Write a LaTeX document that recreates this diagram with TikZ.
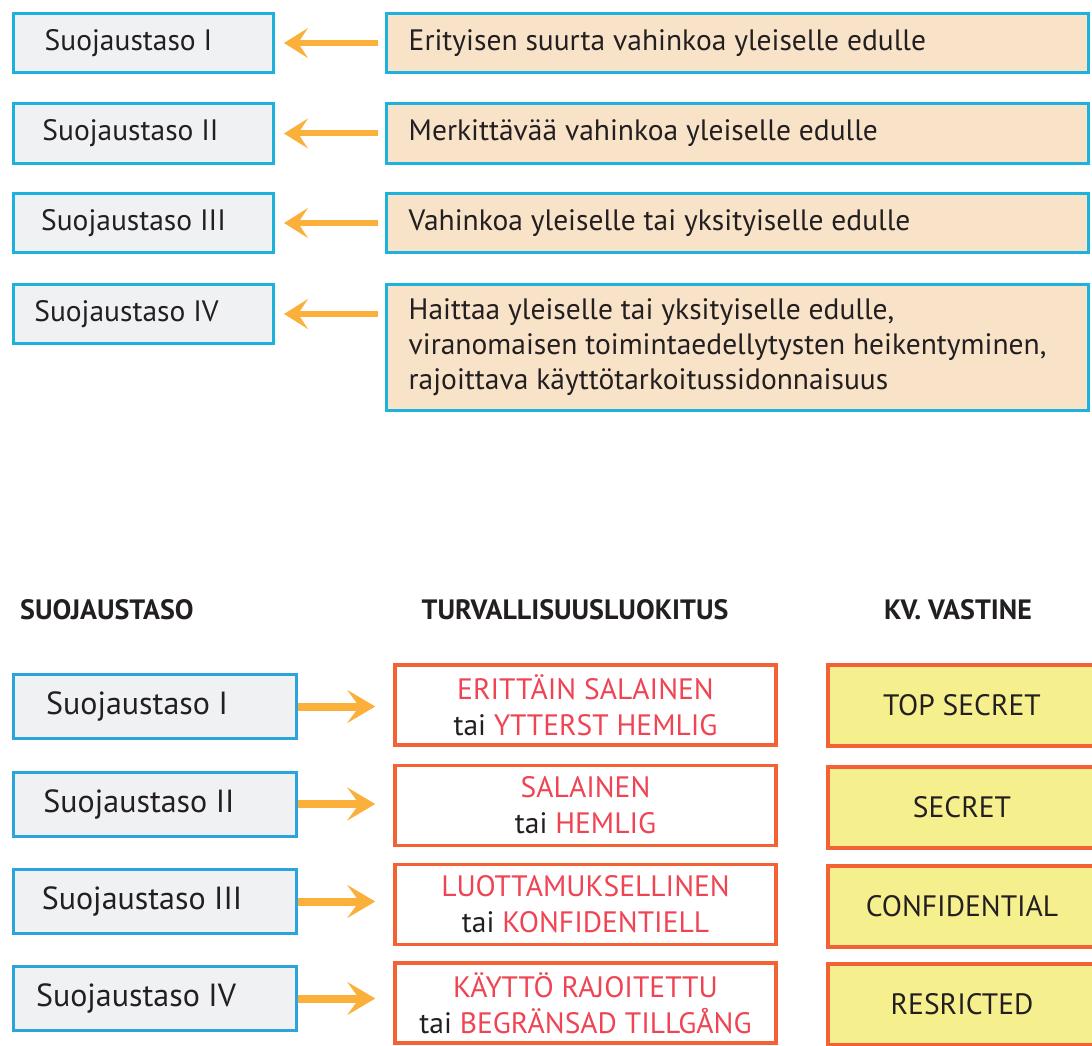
\documentclass[tikz,border=0pt]{standalone}
\usepackage{fontspec}
\setmainfont{PT Sans}
\usetikzlibrary{arrows.meta}
\definecolor{cyanline}{HTML}{1DB1DE}
\definecolor{blueline}{HTML}{2AA4DA}
\definecolor{grayfill}{HTML}{F0F1F3}
\definecolor{peach}{HTML}{F8E3C9}
\definecolor{arroworange}{HTML}{FBB03B}
\definecolor{redline}{HTML}{F26234}
\definecolor{redtext}{HTML}{EF4453}
\definecolor{ink}{HTML}{231F20}
\definecolor{paleyellow}{HTML}{F5EF8D}
\begin{document}
\begin{tikzpicture}[x=1pt,y=-1pt,
  every node/.style={text=ink},
  txt/.style={font=\fontsize{29.5}{35}\selectfont, inner sep=0pt},
  head/.style={font=\fontsize{28}{32}\selectfont\bfseries, inner sep=0pt},
  levelbox/.style={draw=cyanline, fill=grayfill, line width=3pt, inner sep=0pt,
    minimum width=260pt, minimum height=59pt},
  harmbox/.style={draw=cyanline, fill=peach, line width=3pt, inner sep=0pt,
    minimum width=702pt, minimum height=59pt},
  levelboxb/.style={draw=blueline, fill=grayfill, line width=3pt, inner sep=0pt,
    minimum width=283pt, minimum height=64pt},
  classbox/.style={draw=redline, fill=white, line width=3.5pt, inner sep=0pt,
    minimum width=381pt, minimum height=80pt, align=center,
    font=\fontsize{29.5}{36}\selectfont},
  intlbox/.style={draw=redline, fill=paleyellow, line width=3.5pt, inner sep=0pt,
    minimum width=268pt, minimum height=81pt, font=\fontsize{29.5}{35}\selectfont},
  leftarrow/.style={draw=arroworange, line width=6pt,
    -{Stealth[length=24pt,width=30pt,inset=10pt]}, shorten <=7pt, shorten >=9pt},
  rightarrow/.style={draw=arroworange, line width=8pt,
    -{Stealth[length=28pt,width=33pt,inset=12pt]}, shorten >=18pt}
]
\useasboundingbox (0,0) rectangle (1092,1046);
\clip (0,0) rectangle (1092,1046);

% Upper part: protection levels and the harm they correspond to
\node[levelbox, label={[txt, xshift=-15pt]center:Suojaustaso I}]   (t1) at (143.5,43)  {};
\node[levelbox, label={[txt, xshift=-13pt]center:Suojaustaso II}]  (t2) at (143.5,133.5) {};
\node[levelbox, label={[txt, xshift=-10pt]center:Suojaustaso III}] (t3) at (143.5,223) {};
\node[levelbox, label={[txt, xshift=-17pt]center:Suojaustaso IV}]  (t4) at (143.5,314) {};

\node[harmbox, label={[txt, anchor=west, xshift=23.5pt]west:Erityisen suurta vahinkoa yleiselle edulle}] (d1) at (737.5,43) {};
\node[harmbox, label={[txt, anchor=west, xshift=23.5pt]west:Merkittävää vahinkoa yleiselle edulle}] (d2) at (737.5,133.5) {};
\node[harmbox, label={[txt, anchor=west, xshift=23.5pt]west:Vahinkoa yleiselle tai yksityiselle edulle}] (d3) at (737.5,223) {};
\node[harmbox, minimum height=126pt,
  label={[txt, anchor=west, xshift=23.5pt, align=left]west:Haittaa yleiselle tai yksityiselle edulle,\\viranomaisen toimintaedellytysten heikentyminen,\\rajoittava käyttötarkoitussidonnaisuus}] (d4) at (737.5,347.5) {};

\draw[leftarrow] (d1.west) -- (t1.east);
\draw[leftarrow] (d2.west) -- (t2.east);
\draw[leftarrow] (d3.west) -- (t3.east);
\draw[leftarrow] (t4.east -| d4.west) -- (t4.east);

% Lower part: column headings
\node[head, anchor=west] (h1) at (20,610) {SUOJAUSTASO};
\node[head] (h2) at (575,610) {TURVALLISUUSLUOKITUS};
\node[head] (h3) at (958,610) {KV. VASTINE};

% Protection levels
\node[levelboxb, label={[txt, font=\fontsize{32}{38}\selectfont, xshift=-18pt]center:Suojaustaso I}]   (s1) at (155,706.5) {};
\node[levelboxb, label={[txt, font=\fontsize{32}{38}\selectfont, xshift=-16pt]center:Suojaustaso II}]  (s2) at (155,804) {};
\node[levelboxb, label={[txt, font=\fontsize{32}{38}\selectfont, xshift=-13pt]center:Suojaustaso III}] (s3) at (155,901.5) {};
\node[levelboxb, label={[txt, font=\fontsize{32}{38}\selectfont, xshift=-19pt]center:Suojaustaso IV}]  (s4) at (155,998.5) {};

% Security classifications
\node[classbox] (c1) at (585.5,705)  {\textcolor{redtext}{ERITTÄIN SALAINEN}\\tai \textcolor{redtext}{YTTERST HEMLIG}};
\node[classbox] (c2) at (585.5,805.5) {\textcolor{redtext}{SALAINEN}\\tai \textcolor{redtext}{HEMLIG}};
\node[classbox] (c3) at (585.5,904.5) {\textcolor{redtext}{LUOTTAMUKSELLINEN}\\tai \textcolor{redtext}{KONFIDENTIELL}};
\node[classbox] (c4) at (585.5,1003) {\textcolor{redtext}{KÄYTTÖ RAJOITETTU}\\tai \textcolor{redtext}{BEGRÄNSAD TILLGÅNG}};

% International equivalents
\node[intlbox] (k1) at (962,705.5)  {TOP SECRET};
\node[intlbox] (k2) at (962,807.5)  {SECRET};
\node[intlbox] (k3) at (962,906.5)  {CONFIDENTIAL};
\node[intlbox] (k4) at (962,1004.5) {RESRICTED};

\draw[rightarrow] (s1.east) -- (s1.east -| c1.west);
\draw[rightarrow] (s2.east) -- (s2.east -| c2.west);
\draw[rightarrow] (s3.east) -- (s3.east -| c3.west);
\draw[rightarrow] (s4.east) -- (s4.east -| c4.west);
\end{tikzpicture}
\end{document}
